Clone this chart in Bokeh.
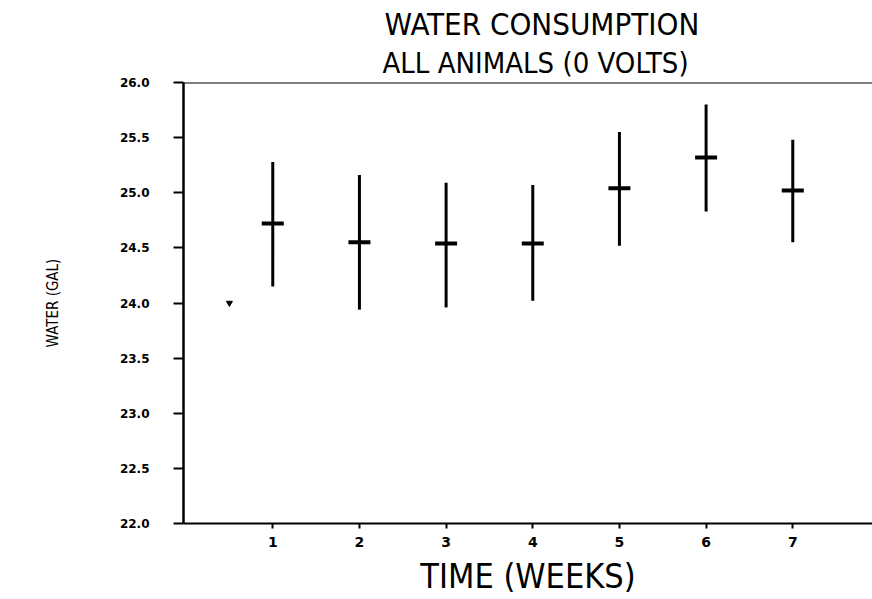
from bokeh.plotting import figure
from bokeh.models import FixedTicker, PrintfTickFormatter, Span, Title, Range1d
from bokeh.embed import file_html
from bokeh.resources import INLINE

# ---- data ----
weeks = [1, 2, 3, 4, 5, 6, 7]
means = [24.72, 24.55, 24.54, 24.54, 25.04, 25.32, 25.02]
lows = [24.15, 23.94, 23.96, 24.02, 24.52, 24.83, 24.55]
highs = [25.28, 25.16, 25.09, 25.07, 25.55, 25.80, 25.48]
start_x = [0.5]
start_y = [24.0]
y_ticks = [22.0, 22.5, 23.0, 23.5, 24.0, 24.5, 25.0, 25.5, 26.0]
x_ticks = [1, 2, 3, 4, 5, 6, 7]

FONT = "Liberation Sans Narrow, DejaVu Sans Condensed, sans-serif"

p = figure(width=872, height=599, output_backend="svg", toolbar_location=None,
           x_range=Range1d(-0.03, 7.92), y_range=Range1d(22.0, 26.0),
           min_border_left=183, min_border_right=0, min_border_top=82,
           min_border_bottom=76, title=None)

p.outline_line_color = None
p.xgrid.visible = False
p.ygrid.visible = False
p.background_fill_color = "white"
p.border_fill_color = "white"

# error bars
p.segment(x0=weeks, y0=lows, x1=weeks, y1=highs, line_color="black", line_width=3)
# means
p.scatter(x=weeks, y=means, marker="dash", size=22, line_color="black", line_width=4)
# starting point
p.scatter(x=start_x, y=start_y, marker="inverted_triangle", size=6,
          fill_color="black", line_color="black")

# top border line
p.add_layout(Span(location=26.0, dimension="width", line_color="black", line_width=2))

# axes
p.yaxis.ticker = FixedTicker(ticks=y_ticks)
p.yaxis.formatter = PrintfTickFormatter(format="%.1f")
p.yaxis.minor_tick_line_color = None
p.yaxis.major_tick_out = 10
p.yaxis.major_tick_in = 0
p.yaxis.major_tick_line_width = 2
p.yaxis.axis_line_width = 2.5
p.yaxis.major_label_standoff = 24
p.yaxis.major_label_text_font = "DejaVu Sans"
p.yaxis.major_label_text_font_style = "bold"
p.yaxis.major_label_text_font_size = "12px"
p.yaxis.major_label_text_color = "black"
p.yaxis.axis_label = "WATER (GAL)"
p.yaxis.axis_label_text_font = FONT
p.yaxis.axis_label_text_font_style = "normal"
p.yaxis.axis_label_text_font_size = "15px"
p.yaxis.axis_label_text_color = "black"
p.yaxis.axis_label_standoff = 55

p.xaxis.ticker = FixedTicker(ticks=x_ticks)
p.xaxis.minor_tick_line_color = None
p.xaxis.major_tick_out = 5
p.xaxis.major_tick_in = 0
p.xaxis.major_tick_line_width = 2
p.xaxis.axis_line_width = 2
p.xaxis.major_label_standoff = 8
p.xaxis.major_label_text_font = "DejaVu Sans"
p.xaxis.major_label_text_font_style = "bold"
p.xaxis.major_label_text_font_size = "14px"
p.xaxis.major_label_text_color = "black"
p.xaxis.axis_label = "TIME (WEEKS)"
p.xaxis.axis_label_text_font = FONT
p.xaxis.axis_label_text_font_style = "normal"
p.xaxis.axis_label_text_font_size = "34px"
p.xaxis.axis_label_text_color = "black"
p.xaxis.axis_label_standoff = 6

# titles
p.add_layout(Title(text="ALL ANIMALS (0 VOLTS)", align="left", text_font=FONT,
                   text_font_size="29px", text_font_style="normal", text_color="black",
                   standoff=5, offset=199), "above")
p.add_layout(Title(text="WATER CONSUMPTION", align="left", text_font=FONT,
                   text_font_size="31px", text_font_style="normal", text_color="black",
                   standoff=0, offset=201), "above")

open("out.html", "w").write(file_html(p, INLINE))
